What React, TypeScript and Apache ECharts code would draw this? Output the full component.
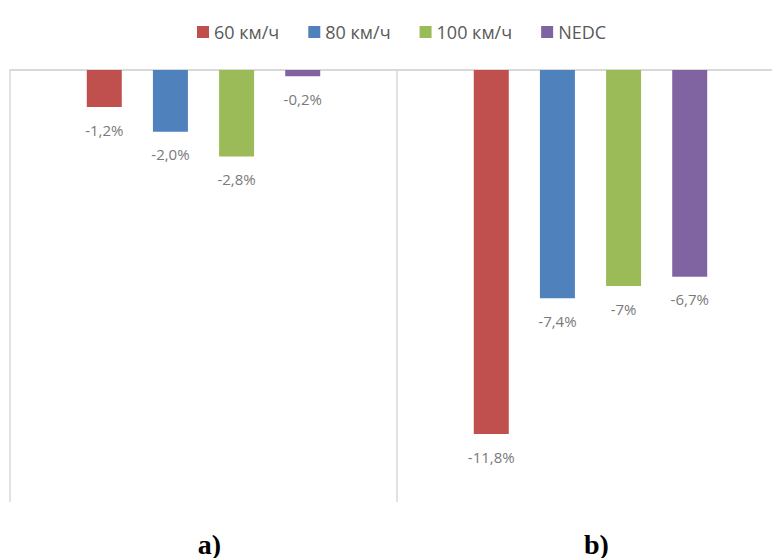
import React, { useEffect, useRef } from "react";
import * as echarts from "echarts";

const categories = ["a)", "b)"];
const seriesNames = ["60 км/ч", "80 км/ч", "100 км/ч", "NEDC"];
const values60 = [-1.2, -11.8];
const values80 = [-2.0, -7.4];
const values100 = [-2.8, -7.0];
const valuesNEDC = [-0.2, -6.7];
const labels60 = ["-1,2%", "-11,8%"];
const labels80 = ["-2,0%", "-7,4%"];
const labels100 = ["-2,8%", "-7%"];
const labelsNEDC = ["-0,2%", "-6,7%"];
const colors = ["#C0504D", "#4F81BD", "#9BBB59", "#8064A2"];

export default function App() {
  const ref = useRef<HTMLDivElement>(null);
  useEffect(() => {
    document.body.style.margin = "0";
    const chart = echarts.init(ref.current!, null, { renderer: "svg" });
    const allValues = [values60, values80, values100, valuesNEDC];
    const allLabels = [labels60, labels80, labels100, labelsNEDC];
    chart.setOption({
      animation: false,
      backgroundColor: "#ffffff",
      legend: {
        top: 18,
        left: 192,
        itemWidth: 12,
        itemHeight: 12,
        itemGap: 29,
        icon: "rect",
        data: seriesNames,
        textStyle: { color: "#595959", fontSize: 18, fontFamily: "Open Sans" },
      },
      grid: { left: 10, right: 0, top: 70, bottom: 53 },
      xAxis: [
        {
          type: "category",
          data: categories,
          position: "top",
          axisLine: { show: true, lineStyle: { color: "#d9d9d9", width: 2 } },
          axisTick: { show: false },
          axisLabel: { show: false },
          splitLine: { show: true, lineStyle: { color: "#d9d9d9", width: 1.5 } },
        },
        {
          type: "category",
          data: categories,
          position: "bottom",
          axisLine: { show: false },
          axisTick: { show: false },
          splitLine: { show: false },
          axisLabel: {
            show: true,
            margin: 28,
            color: "#000000",
            fontSize: 28,
            fontWeight: "bold",
            fontFamily: "Liberation Serif",
            padding: [0, 0, 0, 12],
          },
        },
      ],
      yAxis: {
        type: "value",
        min: -14,
        max: 0,
        show: false,
        splitLine: { show: false },
      },
      series: seriesNames.map((name, i) => ({
        name,
        type: "bar",
        xAxisIndex: 0,
        barWidth: 35,
        barGap: "89%",
        itemStyle: { color: colors[i] },
        data: allValues[i],
        label: {
          show: true,
          position: "bottom",
          distance: 15,
          color: "#7a7a7a",
          fontSize: 15,
          fontFamily: "Open Sans",
          formatter: (p: any) => allLabels[i][p.dataIndex],
        },
      })),
    });
    return () => chart.dispose();
  }, []);
  return (
    <div style={{ width: 772, height: 558, overflow: "hidden", position: "relative" }}>
      <div ref={ref} style={{ width: 784, height: 558 }} />
    </div>
  );
}
